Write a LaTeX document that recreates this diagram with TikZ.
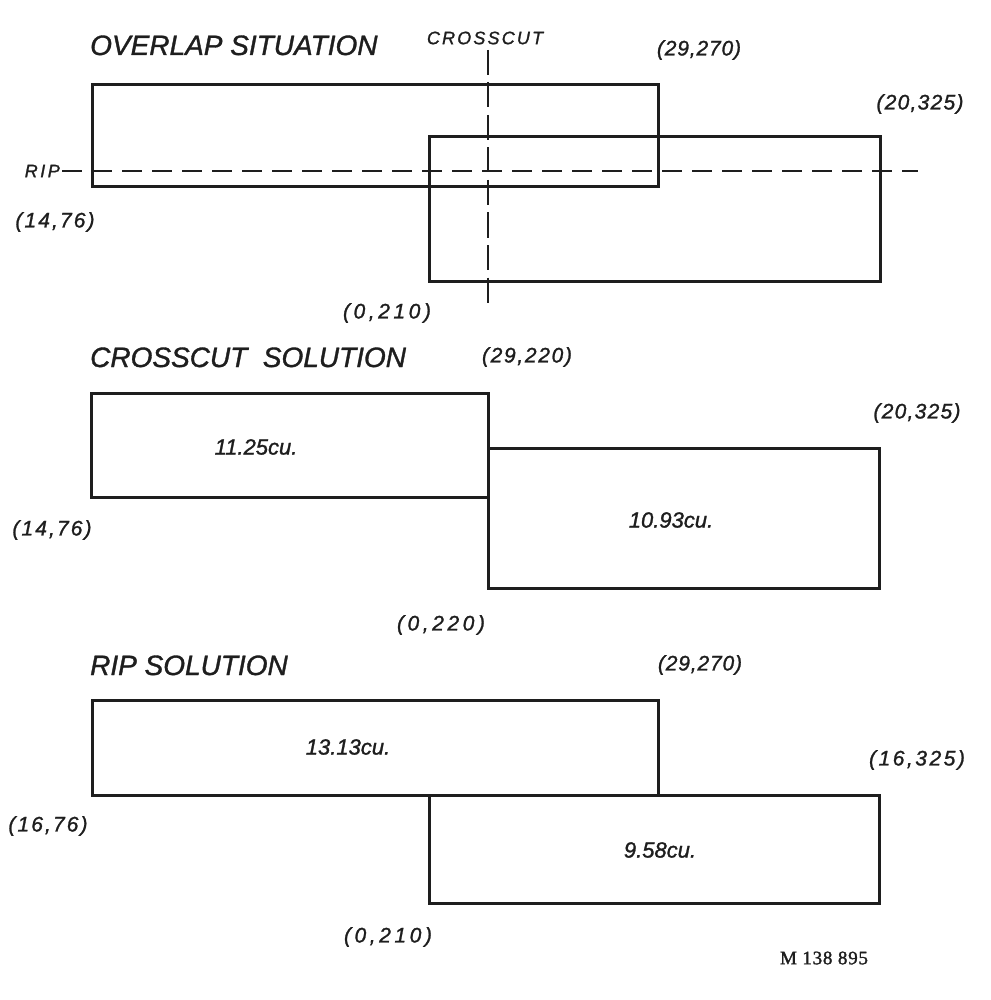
\documentclass[tikz,border=0pt]{standalone}
\usepackage{fontspec}
\setmainfont{Liberation Sans}[ItalicFeatures={FakeBold=1.2}]
\newfontfamily\serifnum{Liberation Serif}[FakeBold=1.5,LetterSpace=4]
\definecolor{ink}{HTML}{1E1E1E}
\tikzset{
  box/.style={draw=ink, line width=3pt, line join=miter},
  cutline/.style={draw=ink, line width=2.8pt, dash pattern=on 25pt off 7.5pt},
  ripline/.style={draw=ink, line width=2.8pt, dash pattern=on 20pt off 10pt},
  title/.style={inner sep=0pt, font=\fontsize{28}{30}\selectfont\itshape, text=ink},
  coord/.style={inner sep=0pt, font=\fontsize{21}{23}\selectfont\itshape, text=ink},
  small/.style={inner sep=0pt, font=\fontsize{18}{20}\selectfont\itshape, text=ink},
  vol/.style={inner sep=0pt, font=\fontsize{22}{24}\selectfont\itshape, text=ink},
  tag/.style={inner sep=0pt, font=\fontsize{19}{21}\serifnum, text=ink}
}
\newcommand{\ls}[2]{{\addfontfeature{LetterSpace=#1}#2}}
\begin{document}
\begin{tikzpicture}[x=1pt,y=-1pt]
\useasboundingbox (0,0) rectangle (990,1000);
\fill[white] (0,0) rectangle (990,1000);

% ---------- OVERLAP SITUATION ----------
\node[title, anchor=base west] (t1) at (90,55) {OVERLAP SITUATION};
\node[small] (cclab) at (485,38) {\ls{12}{CROSSCUT}};
\node[coord] (p1) at (699,50) {\ls{4}{(29,270)}};
\node[coord] (p2) at (920,104) {\ls{6}{(20,325)}};
\node[small, anchor=east] (riplab) at (60,171) {\ls{14}{RIP}};
\node[coord] (p3) at (55,222) {\ls{10}{(14,76)}};
\node[coord] (p4) at (387,313) {\ls{17}{(0,210)}};

\draw[box] (92,85) rectangle (658,187);
\draw[box] (429,137) rectangle (880,281);
\coordinate (ccTop) at (488,50);
\coordinate (ccBot) at (488,307);
\draw[cutline] (ccTop) -- (ccBot);
\coordinate (ripL) at (62,171);
\coordinate (ripR) at (918,171);
\draw[ripline] (ripL) -- (ripR);

% ---------- CROSSCUT SOLUTION ----------
\node[title, anchor=base west] (t2) at (90,367) {CROSSCUT\ \ SOLUTION};
\node[coord] (q1) at (527,357) {\ls{8}{(29,220)}};
\node[coord] (q2) at (917,413) {\ls{6}{(20,325)}};
\node[coord] (q3) at (52,530) {\ls{10}{(14,76)}};
\node[coord] (q4) at (441,625) {\ls{17}{(0,220)}};
\draw[box] (91,393) rectangle (488,497);
\draw[box] (488,448) rectangle (879,588);
\node[vol] (v1) at (256,447) {11.25cu.};
\node[vol] (v2) at (671,520) {10.93cu.};

% ---------- RIP SOLUTION ----------
\node[title, anchor=base west] (t3) at (90,675) {RIP SOLUTION};
\node[coord] (r1) at (700,665) {\ls{4}{(29,270)}};
\node[coord] (r2) at (917,760) {\ls{12}{(16,325)}};
\node[coord] (r3) at (48,826) {\ls{10}{(16,76)}};
\node[coord] (r4) at (388,937) {\ls{17}{(0,210)}};
\draw[box] (92,700) rectangle (658,795);
\draw[box] (429,795) rectangle (879,903);
\node[vol] (v3) at (348,747) {13.13cu.};
\node[vol] (v4) at (660,850) {9.58cu.};

\node[tag] (code) at (824,958) {M 138 895};
\end{tikzpicture}
\end{document}
